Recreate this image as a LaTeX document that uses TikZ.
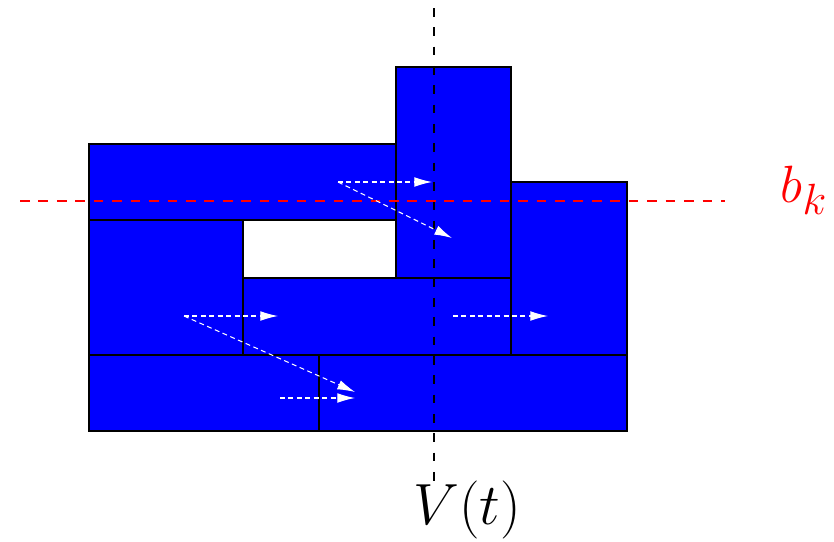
\documentclass[tikz,border=0pt]{standalone}
\usetikzlibrary{arrows.meta}
\begin{document}
\begin{tikzpicture}[x=0.02cm,y=-0.02cm,
  blk/.style={draw=black,fill=blue,line width=1.4pt},
  flow/.style={draw=white,line width=0.6pt,dash pattern=on 2.8pt off 2pt,-{Latex[length=10pt,width=5.5pt]}},
  vaxis/.style={draw=black,line width=1.3pt,dash pattern=on 5pt off 6pt},
  baxis/.style={draw=red,line width=1.5pt,dash pattern=on 5.5pt off 5pt}]
\useasboundingbox (0,0) rectangle (834,541);
% blocks
\draw[blk] (89,144) rectangle (396,220);
\draw[blk] (396,67) rectangle (511,278);
\draw[blk] (511,182) rectangle (627,355);
\draw[blk] (89,220) rectangle (243,355);
\draw[blk] (243,278) rectangle (511,355);
\draw[blk] (89,355) rectangle (319,431);
\draw[blk] (319,355) rectangle (627,431);
% axes
\coordinate (vt) at (434,8);
\coordinate (vb) at (434,487);
\draw[vaxis] (vt) -- (vb);
\node[font=\Huge,scale=1.33] (vlab) at (467,510) {$V(t)$};
\coordinate (bl) at (20,201);
\coordinate (br) at (725,201);
\draw[baxis] (bl) -- (br);
\node[font=\Huge,scale=1.2,text=red] (blab) at (804,190) {$b_k$};
% flow arrows
\coordinate (a1) at (338,182);
\coordinate (a1h) at (432,182);
\coordinate (a1d) at (452,238);
\coordinate (a2) at (184,316);
\coordinate (a2h) at (278,316);
\coordinate (a2d) at (355,392);
\coordinate (a3) at (453,316);
\coordinate (a3h) at (548,316);
\coordinate (a4) at (280,398);
\coordinate (a4h) at (355,398);
\draw[flow] (a1) -- (a1h);
\draw[flow] (a1) -- (a1d);
\draw[flow] (a2) -- (a2h);
\draw[flow] (a2) -- (a2d);
\draw[flow] (a3) -- (a3h);
\draw[flow] (a4) -- (a4h);
\end{tikzpicture}
\end{document}
